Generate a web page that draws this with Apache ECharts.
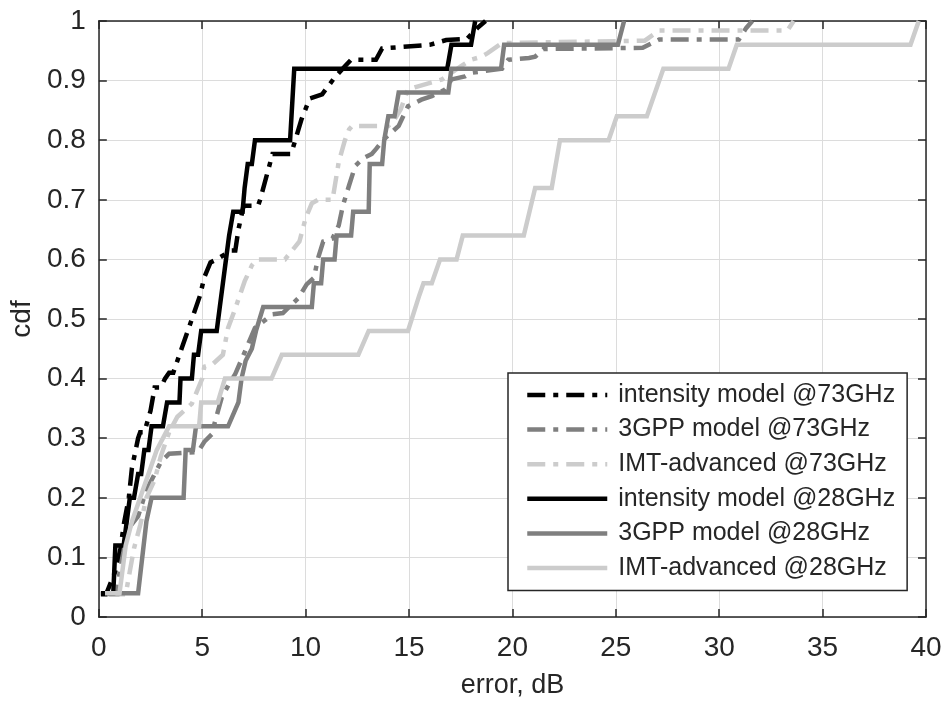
<!DOCTYPE html>
<html>
<head>
<meta charset="utf-8">
<script src="https://cdn.jsdelivr.net/npm/echarts@6/dist/echarts.min.js"></script>
<style>
html,body{margin:0;padding:0;background:#fff;}
#chart{width:946px;height:704px;}
</style>
</head>
<body>
<div id="chart"></div>
<script>
// ---- data (error in dB, cdf) ----
var seriesNames = [
  'intensity model @73GHz',
  '3GPP model @73GHz',
  'IMT-advanced @73GHz',
  'intensity model @28GHz',
  '3GPP model @28GHz',
  'IMT-advanced @28GHz'
];
var xTicks = [0, 5, 10, 15, 20, 25, 30, 35, 40];
var yTicks = [0, 0.1, 0.2, 0.3, 0.4, 0.5, 0.6, 0.7, 0.8, 0.9, 1];

var intensity73 = [[0.1,0.038],[0.35,0.038],[0.8,0.077],[1.05,0.115],[1.2,0.154],[1.45,0.2],[1.6,0.25],[1.9,0.3],[2.0,0.31],[2.2,0.31],[2.5,0.346],[2.7,0.385],[3.0,0.385],[3.2,0.4],[3.4,0.41],[3.6,0.41],[4.0,0.45],[4.5,0.5],[4.9,0.54],[5.1,0.57],[5.4,0.595],[5.7,0.6],[6.4,0.615],[6.6,0.615],[6.75,0.65],[7.0,0.69],[7.7,0.69],[7.8,0.70],[8.4,0.777],[9.3,0.777],[9.5,0.8],[9.8,0.835],[10.2,0.87],[10.8,0.877],[11.4,0.905],[11.9,0.924],[12.2,0.935],[13.4,0.935],[13.7,0.954],[16.0,0.96],[16.8,0.968],[17.8,0.97],[18.3,0.988],[18.7,1.0]];

var gpp73 = [[0.5,0.038],[0.9,0.038],[1.0,0.075],[1.4,0.147],[1.9,0.169],[2.3,0.213],[3.0,0.26],[3.4,0.274],[4.8,0.277],[5.1,0.294],[5.5,0.308],[5.55,0.319],[5.95,0.369],[6.3,0.391],[6.6,0.408],[7.0,0.44],[7.55,0.485],[8.0,0.497],[8.4,0.508],[8.9,0.51],[9.65,0.535],[10.05,0.558],[10.4,0.569],[10.6,0.602],[10.85,0.63],[11.3,0.635],[11.6,0.657],[11.8,0.69],[12.1,0.724],[12.4,0.757],[12.8,0.77],[13.2,0.777],[13.4,0.785],[13.8,0.802],[14.5,0.824],[14.95,0.857],[15.6,0.868],[16.1,0.874],[16.75,0.885],[17.06,0.902],[17.7,0.907],[18.0,0.913],[19.5,0.92],[19.8,0.935],[20.8,0.938],[21.1,0.94],[21.5,0.953],[26.3,0.955],[27.1,0.969],[30.95,0.969],[31.3,0.988],[31.6,1.0]];

var imt73 = [[0.4,0.038],[1.3,0.038],[1.5,0.077],[1.7,0.115],[2.0,0.154],[2.3,0.2],[2.7,0.23],[3.0,0.27],[3.4,0.31],[3.8,0.336],[4.5,0.358],[5.0,0.4],[5.1,0.42],[5.5,0.424],[6.0,0.44],[6.25,0.485],[6.55,0.513],[7.05,0.563],[7.4,0.59],[7.65,0.6],[9.0,0.6],[9.3,0.613],[9.7,0.63],[10.0,0.669],[10.3,0.694],[10.6,0.7],[11.3,0.7],[11.6,0.763],[11.9,0.8],[12.1,0.818],[12.25,0.824],[14.0,0.824],[14.3,0.835],[14.6,0.852],[14.95,0.885],[15.4,0.89],[16.6,0.902],[17.5,0.924],[18.0,0.935],[18.5,0.94],[18.8,0.946],[19.5,0.963],[26.4,0.967],[27.1,0.984],[33.3,0.984],[33.6,1.0]];

var intensity28 = [[0.1,0.04],[0.7,0.04],[0.8,0.12],[1.2,0.12],[1.5,0.2],[1.7,0.2],[1.9,0.24],[2.05,0.24],[2.2,0.28],[2.4,0.28],[2.55,0.32],[3.1,0.32],[3.3,0.36],[3.9,0.36],[3.95,0.4],[4.5,0.4],[4.6,0.44],[4.8,0.44],[4.95,0.48],[5.7,0.48],[5.85,0.52],[6.0,0.56],[6.15,0.6],[6.3,0.64],[6.5,0.68],[6.95,0.68],[7.05,0.72],[7.2,0.76],[7.4,0.76],[7.55,0.8],[9.25,0.8],[9.45,0.92],[16.85,0.92],[17.05,0.96],[18.0,0.96],[18.2,1.0]];

var gpp28 = [[0.75,0.04],[1.9,0.04],[2.3,0.16],[2.55,0.2],[4.1,0.2],[4.2,0.28],[4.55,0.28],[4.7,0.32],[6.25,0.32],[6.75,0.36],[6.9,0.4],[7.1,0.43],[7.4,0.45],[7.6,0.48],[7.95,0.52],[10.3,0.52],[10.4,0.56],[10.75,0.56],[10.85,0.6],[11.4,0.6],[11.5,0.64],[12.2,0.64],[12.3,0.68],[13.05,0.68],[13.1,0.76],[13.7,0.76],[13.8,0.8],[14.0,0.84],[14.3,0.84],[14.5,0.88],[16.9,0.88],[17.05,0.92],[19.45,0.92],[19.6,0.96],[25.1,0.96],[25.4,1.0]];

var imt28 = [[0.3,0.04],[1.0,0.04],[1.3,0.12],[1.6,0.16],[2.0,0.2],[2.4,0.24],[2.8,0.28],[3.4,0.32],[4.85,0.32],[4.95,0.36],[5.75,0.36],[6.1,0.4],[8.35,0.4],[8.85,0.44],[12.55,0.44],[13.05,0.48],[14.95,0.48],[15.5,0.54],[15.7,0.56],[16.1,0.56],[16.5,0.6],[17.3,0.6],[17.6,0.64],[20.55,0.64],[21.1,0.72],[21.9,0.72],[22.3,0.8],[24.65,0.8],[25.05,0.84],[26.5,0.84],[27.3,0.92],[30.45,0.92],[30.85,0.96],[39.25,0.96],[39.65,1.0]];

var seriesData = [intensity73, gpp73, imt73, intensity28, gpp28, imt28];
var seriesColors = ['#000000', '#7f7f7f', '#cccccc', '#000000', '#7f7f7f', '#cccccc'];
var DASHDOT = [18, 8, 5, 8];
var seriesDash = [DASHDOT, DASHDOT, DASHDOT, 'solid', 'solid', 'solid'];
var seriesWidth = [4.5, 4.5, 4.5, 4.5, 4.5, 4.5];

var chart = echarts.init(document.getElementById('chart'), null, {renderer: 'canvas'});
var FONT = '"Liberation Sans", Arial, Helvetica, sans-serif';
var TXT = '#262626';

var series = seriesNames.map(function (n, i) {
  return {
    name: n,
    type: 'line',
    data: seriesData[i],
    symbol: 'none',
    showSymbol: false,
    clip: true,
    xAxisIndex: 0,
    yAxisIndex: 0,
    lineStyle: {color: seriesColors[i], width: seriesWidth[i], type: seriesDash[i], join: 'miter', cap: 'butt'},
    itemStyle: {color: 'rgba(0,0,0,0)', borderWidth: 0, opacity: 0}
  };
});

var xMin = xTicks[0], xMax = xTicks[xTicks.length - 1], xInt = xTicks[1] - xTicks[0];
var yMin = yTicks[0], yMax = yTicks[yTicks.length - 1], yInt = 0.1;

chart.setOption({
  animation: false,
  backgroundColor: '#ffffff',
  grid: {left: 97, top: 21, width: 829, height: 600, containLabel: false},
  xAxis: [{
    type: 'value', min: xMin, max: xMax, interval: xInt, position: 'bottom',
    name: 'error, dB', nameLocation: 'middle', nameGap: 55,
    nameTextStyle: {fontFamily: FONT, fontSize: 27, color: TXT},
    axisLine: {show: true, onZero: false, lineStyle: {color: TXT, width: 1.5}},
    axisTick: {show: true, inside: true, length: 8, lineStyle: {color: TXT, width: 1.5}},
    axisLabel: {fontFamily: FONT, fontSize: 28, color: TXT, margin: 17},
    splitLine: {show: true, lineStyle: {color: '#dcdcdc', width: 1}}
  }, {
    type: 'value', min: xMin, max: xMax, interval: xInt, position: 'top',
    axisLine: {show: true, onZero: false, lineStyle: {color: TXT, width: 1.5}},
    axisTick: {show: true, inside: true, length: 8, lineStyle: {color: TXT, width: 1.5}},
    axisLabel: {show: false},
    splitLine: {show: false}
  }],
  yAxis: [{
    type: 'value', min: yMin, max: yMax, interval: yInt, position: 'left',
    name: 'cdf', nameLocation: 'middle', nameGap: 49,
    nameTextStyle: {fontFamily: FONT, fontSize: 28, color: TXT},
    axisLine: {show: true, onZero: false, lineStyle: {color: TXT, width: 1.5}},
    axisTick: {show: true, inside: true, length: 8, lineStyle: {color: TXT, width: 1.5}},
    axisLabel: {fontFamily: FONT, fontSize: 28, color: TXT, margin: 13},
    splitLine: {show: true, lineStyle: {color: '#dcdcdc', width: 1}}
  }, {
    type: 'value', min: yMin, max: yMax, interval: yInt, position: 'right',
    axisLine: {show: true, onZero: false, lineStyle: {color: TXT, width: 1.5}},
    axisTick: {show: true, inside: true, length: 8, lineStyle: {color: TXT, width: 1.5}},
    axisLabel: {show: false},
    splitLine: {show: false}
  }],
  legend: {
    data: seriesNames,
    orient: 'vertical',
    left: 508, top: 373,
    backgroundColor: '#ffffff',
    borderColor: TXT, borderWidth: 1.5,
    padding: [9.5, 12, 10, 17],
    itemWidth: 80, itemHeight: 14, itemGap: 9.6,
    itemStyle: {opacity: 0},
    lineStyle: {width: 4.5},
    textStyle: {fontFamily: FONT, fontSize: 25, color: TXT, padding: [0, 0, 0, 6]}
  },
  series: series
});
</script>
</body>
</html>
